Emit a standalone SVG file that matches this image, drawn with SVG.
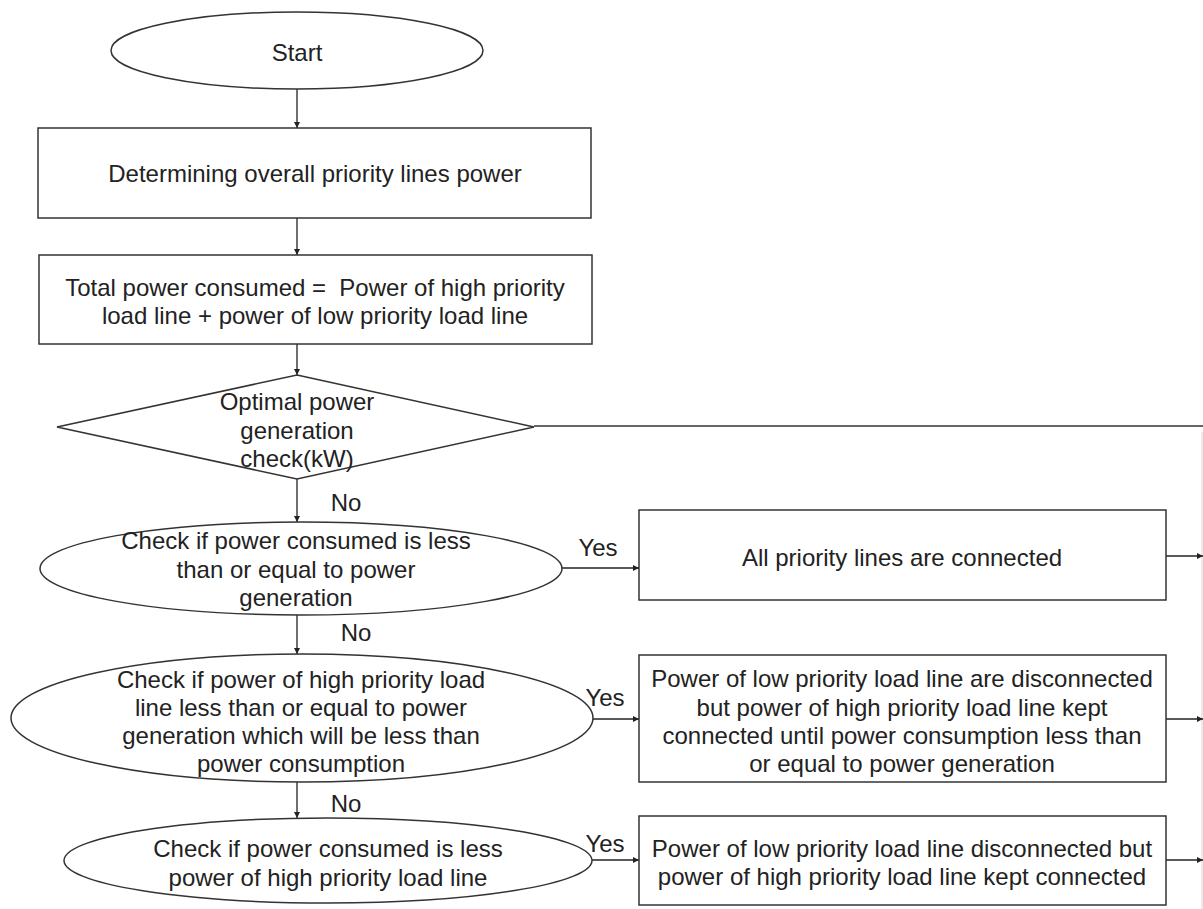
<svg xmlns="http://www.w3.org/2000/svg" width="1203" height="909" viewBox="0 0 1203 909">
<defs>
<marker id="arr" markerUnits="userSpaceOnUse" markerWidth="7" markerHeight="6" refX="6" refY="3" orient="auto">
<path d="M0,0 L6,3 L0,6 z" fill="#222"/>
</marker>
<style>
.shape{fill:#fff;stroke:#333;stroke-width:1.5}
.t{font-family:"Liberation Sans",Arial,sans-serif;font-size:24px;fill:#222;text-anchor:middle}
.lbl{font-family:"Liberation Sans",Arial,sans-serif;font-size:24px;fill:#222;text-anchor:middle}
.c{fill:none;stroke:#222;stroke-width:1.3;marker-end:url(#arr)}
</style>
</defs>
<rect width="1203" height="909" fill="#fff"/>
<g id="connectors">
<path class="c" d="M297,89 V128"/>
<path class="c" d="M297,218 V255"/>
<path class="c" d="M297,344 V375"/>
<path class="c" d="M297,479 V522"/>
<path d="M534,426 H1203" fill="none" stroke="#666" stroke-width="2"/>
<path d="M1202,432 V909" fill="none" stroke="#e4e4e4" stroke-width="1.5"/>
<path class="c" d="M562,568 H639"/>
<path class="c" d="M1166,556 H1203"/>
<path class="c" d="M297,615 V654"/>
<path class="c" d="M593,719 H639"/>
<path class="c" d="M1166,719 H1203"/>
<path class="c" d="M297,782 V818"/>
<path class="c" d="M592,860 H639"/>
<path class="c" d="M1166,860 H1203"/>
<text class="lbl" x="346" y="510.5">No</text>
<text class="lbl" x="356" y="640.5">No</text>
<text class="lbl" x="346" y="811.5">No</text>
<text class="lbl" x="598" y="555.5">Yes</text>
<text class="lbl" x="605" y="705.5">Yes</text>
<text class="lbl" x="605" y="851.5">Yes</text>
</g>
<g id="start">
<ellipse class="shape" cx="297" cy="50.5" rx="186" ry="38.5"/>
<text class="t" x="297" y="60.5">Start</text>
</g>
<g id="determine">
<rect class="shape" x="38" y="128" width="553" height="90"/>
<text class="t" x="315" y="181.5">Determining overall priority lines power</text>
</g>
<g id="total">
<rect class="shape" x="39" y="255" width="553" height="89"/>
<text class="t" x="315" y="295.5" style="white-space:pre">Total power consumed =  Power of high priority</text>
<text class="t" x="315" y="323.5">load line + power of low priority load line</text>
</g>
<g id="optimal">
<polygon class="shape" points="297,375 534,427 297,479 57,427"/>
<text class="t" x="297" y="409.5">Optimal power</text>
<text class="t" x="297" y="438.5">generation</text>
<text class="t" x="297" y="466.5">check(kW)</text>
</g>
<g id="check1">
<ellipse class="shape" cx="301" cy="568.5" rx="261" ry="46.5"/>
<text class="t" x="296" y="548.5">Check if power consumed is less</text>
<text class="t" x="296" y="577.5">than or equal to power</text>
<text class="t" x="296" y="605.5">generation</text>
</g>
<g id="allconnected">
<rect class="shape" x="639" y="510" width="527" height="90"/>
<text class="t" x="902" y="565.5">All priority lines are connected</text>
</g>
<g id="check2">
<ellipse class="shape" cx="302" cy="718" rx="291" ry="64"/>
<text class="t" x="301" y="687.5">Check if power of high priority load</text>
<text class="t" x="301" y="715.5">line less than or equal to power</text>
<text class="t" x="301" y="743.5">generation which will be less than</text>
<text class="t" x="301" y="771.5">power consumption</text>
</g>
<g id="lowdisconnected1">
<rect class="shape" x="639" y="655" width="527" height="127"/>
<text class="t" x="902" y="686.5">Power of low priority load line are disconnected</text>
<text class="t" x="902" y="715.5">but power of high priority load line kept</text>
<text class="t" x="902" y="743.5">connected until power consumption less than</text>
<text class="t" x="902" y="771.5">or equal to power generation</text>
</g>
<g id="check3">
<ellipse class="shape" cx="328" cy="860.5" rx="264" ry="42.5"/>
<text class="t" x="328" y="856.5">Check if power consumed is less</text>
<text class="t" x="328" y="885.5">power of high priority load line</text>
</g>
<g id="lowdisconnected2">
<rect class="shape" x="639" y="816" width="527" height="89"/>
<text class="t" x="902" y="856.5">Power of low priority load line disconnected but</text>
<text class="t" x="902" y="884.5">power of high priority load line kept connected</text>
</g>
</svg>
